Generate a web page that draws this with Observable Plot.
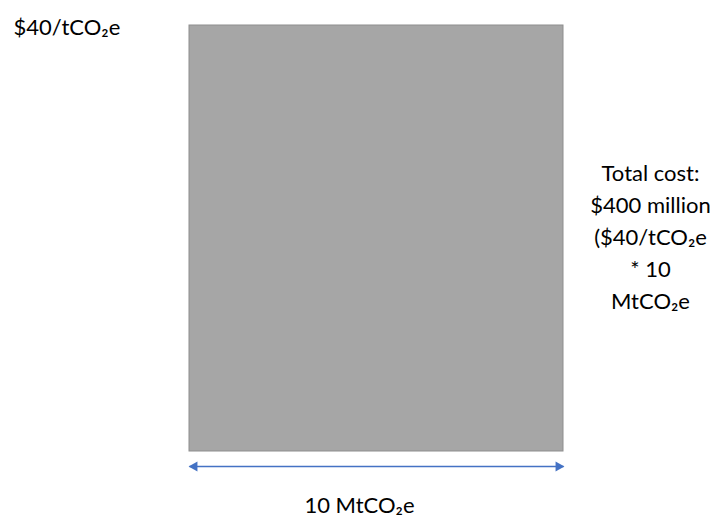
<!DOCTYPE html>
<html>
<head>
<meta charset="utf-8">
<script src="https://cdn.jsdelivr.net/npm/d3@7"></script>
<script src="https://cdn.jsdelivr.net/npm/@observablehq/plot@0.6"></script>
<style>
  html, body { margin: 0; padding: 0; background: #fff; }
  #chart svg { display: block; }
</style>
</head>
<body>
<div id="chart"></div>
<script>
// Data
const quantity = [10];            // MtCO2e
const price = [40];               // $/tCO2e
const priceLabel = ["$40/tCO₂e"];
const quantityLabel = ["10 MtCO₂e"];
const totalLabel = ["Total cost:\n$400 million\n($40/tCO₂e\n* 10\nMtCO₂e"];

const rows = quantity.map((q, i) => ({q, p: price[i]}));
const font = "Lato, 'Open Sans', sans-serif";

const chart = Plot.plot({
  width: 715,
  height: 519,
  margin: 0,
  x: {domain: [0, 10], range: [189, 563], axis: null},
  y: {domain: [0, 40], range: [451, 25], axis: null},
  style: {fontFamily: font, background: "#fff"},
  marks: [
    Plot.rect(rows, {x1: 0, x2: d => d.q, y1: 0, y2: d => d.p, fill: "#a6a6a6", stroke: "#8e8e8e", strokeWidth: 1}),
    // double-headed arrow under the bar
    Plot.link(rows, {x1: 0, x2: d => d.q, y1: 0, y2: 0, dy: 15, stroke: "#4472c4", strokeWidth: 1.5}),
    Plot.dot(rows, {x: d => d.q, y: 0, dy: 15, dx: -5, symbol: "triangle", rotate: 90, r: 3.8, fill: "#4472c4", stroke: null}),
    Plot.dot(rows, {x: 0, y: 0, dy: 15, dx: 5, symbol: "triangle", rotate: -90, r: 3.8, fill: "#4472c4", stroke: null}),
    // labels
    Plot.text(rows, {x: 0, y: d => d.p, text: () => priceLabel[0], dx: -176, dy: 2, textAnchor: "start", fontSize: 22, fill: "#000"}),
    Plot.text(rows, {x: d => d.q / 2, y: 0, text: () => quantityLabel[0], dx: -17, dy: 54, fontSize: 22, fill: "#000"}),
    Plot.text(rows, {x: d => d.q, y: d => d.p / 2, text: () => totalLabel[0], dx: 87, dy: -4, fontSize: 22, lineHeight: 1.4545, fill: "#000"})
  ]
});
document.getElementById("chart").append(chart);
</script>
</body>
</html>
